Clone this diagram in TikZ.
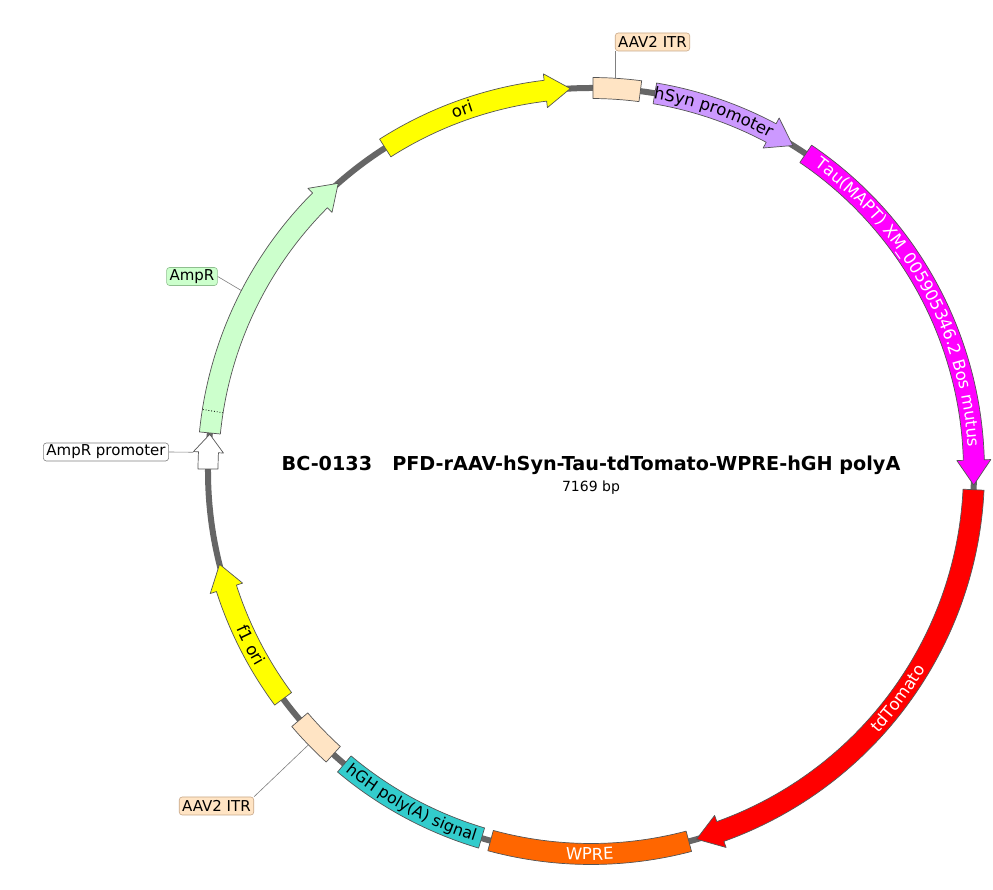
\documentclass[tikz,border=0pt]{standalone}
\usepackage{fontspec}
\setmainfont{DejaVu Sans}
\usepackage{tikz}
\usetikzlibrary{decorations.text}
\definecolor{backbonegray}{HTML}{666666}
\definecolor{edgegray}{HTML}{555555}
\definecolor{itrfill}{HTML}{FFE4C4}
\definecolor{itredge}{HTML}{C9A98A}
\definecolor{hsynfill}{HTML}{CC99FF}
\definecolor{taufill}{HTML}{FF00FF}
\definecolor{tomatofill}{HTML}{FF0000}
\definecolor{wprefill}{HTML}{FF6600}
\definecolor{hghfill}{HTML}{33CCCC}
\definecolor{ampfill}{HTML}{CCFFCC}
\definecolor{ampedge}{HTML}{8FBF8F}
\definecolor{orifill}{HTML}{FFFF00}
\def\R{383}
\def\Ro{393.5}
\def\Ri{372.5}
\def\Rho{400}
\def\Rhi{366}
\def\T{3.74}
\newcommand{\labelfont}{\fontsize{16.5}{19}\selectfont}
\newcommand{\slabelfont}{\fontsize{15.8}{18}\selectfont}
\newcommand{\wlabelfont}{\fontsize{16.5}{19}\selectfont\color{white}}
\newcommand{\featbox}[3]{%
  \filldraw[feature,fill=#3] (#1:\Ro) arc[start angle=#1,end angle=#2,radius=\Ro]
    -- (#2:\Ri) arc[start angle=#2,end angle=#1,radius=\Ri] -- cycle;}
\newcommand{\featarrow}[3]{%
  \pgfmathsetmacro{\hb}{#2+\T}%
  \filldraw[feature,fill=#3] (#1:\Ro) arc[start angle=#1,end angle=\hb,radius=\Ro]
    -- (\hb:\Rho) -- (#2:\R) -- (\hb:\Rhi) -- (\hb:\Ri)
    arc[start angle=\hb,end angle=#1,radius=\Ri] -- cycle;}
\newcommand{\featlabel}[4]{%
  \path[decorate,decoration={text along path,text align=center,text={#4}}]
    (#1:#3) arc[start angle=#1,end angle=#2,radius=#3];}
\tikzset{
    backbone/.style={draw=backbonegray,line width=6pt},
    feature/.style={draw=edgegray,line width=0.7pt,line join=round},
    calloutbox/.style={rounded corners=3pt,line width=0.6pt,inner xsep=3pt,inner ysep=1.5pt,minimum height=18pt,font=\fontsize{15}{17}\selectfont},
    calloutline/.style={draw=gray,line width=0.6pt},
    titletext/.style={font=\fontsize{19.2}{22}\selectfont\bfseries},
    sizetext/.style={font=\fontsize{14}{16}\selectfont}
}
\begin{document}
\begin{tikzpicture}[x=1pt,y=1pt]
	\fill[white] (-591,-419) rectangle (402,471);
	\useasboundingbox (-591,-419) rectangle (402,471);

	\draw[backbone] (0,0) circle[radius=\R];

	\node[calloutbox,fill=itrfill,draw=itredge] (ITRtop) at (61.5,429) {AAV2 ITR};
	\node[calloutbox,fill=itrfill,draw=itredge] (ITRbot) at (-374.5,-335) {AAV2 ITR};
	\node[calloutbox,fill=ampfill,draw=ampedge] (AMP) at (-399,194.5) {AmpR};
	\node[calloutbox,fill=white,draw=gray] (AMPP) at (-485,19) {AmpR promoter};

	\coordinate (itrA) at (86.5:\Ro);
	\coordinate (itrB) at (224.1:\Ro);
	\coordinate (ampA) at (152.7:\Ro);
	\coordinate (amppA) at (177.3:398);
	\draw[calloutline] (itrA) -- (itrA |- ITRtop.south);
	\draw[calloutline] (itrB) -- (ITRbot.north east);
	\draw[calloutline] (ampA) -- (AMP.east);
	\draw[calloutline] (amppA) -- (AMPP.east);

	\featbox{89.7}{82.6}{itrfill}
	\featarrow{80.4}{58.2}{hsynfill}
	\featarrow{55.9}{-2.1}{taufill}
	\featarrow{-2.8}{-74}{tomatofill}
	\featbox{-75.2}{-105.2}{wprefill}
	\featbox{-106.6}{-130.1}{hghfill}
	\featbox{220.5}{227.7}{itrfill}
	\featarrow{216.5}{194.1}{orifill}
	\featarrow{174.3}{131.3}{ampfill}
	\featarrow{122.5}{93.1}{orifill}
	\filldraw[feature,fill=white] (179.7:393) arc[start angle=179.7,end angle=177.2,radius=393]
		-- (177.2:398) -- (174.5:\R) -- (177.2:368) -- (177.2:373)
		arc[start angle=177.2,end angle=179.7,radius=373] -- cycle;
	\draw[dotted,line width=0.8pt] (171:\Ri) -- (171:\Ro);

	\featlabel{122.5}{96.8}{378}{|\labelfont|ori}
	\featlabel{80.4}{61.9}{378}{|\labelfont|hSyn promoter}
	\featlabel{55.9}{1.6}{378}{|\wlabelfont|Tau(MAPT) XM{\_}005905346.2 Bos mutus}
	\featlabel{-70.3}{-2.8}{389}{|\wlabelfont|tdTomato}
	\featlabel{-105.2}{-75.2}{389}{|\wlabelfont|WPRE}
	\featlabel{-130.1}{-106.6}{388}{|\slabelfont|hGH poly(A) signal}
	\featlabel{197.8}{216.5}{388}{|\labelfont|f1 ori}

	\node[titletext] (TT) at (0,6) {BC-0133\ \ \ PFD-rAAV-hSyn-Tau-tdTomato-WPRE-hGH polyA};
	\node[sizetext] (BP) at (0,-17) {7169 bp};
\end{tikzpicture}
\end{document}
